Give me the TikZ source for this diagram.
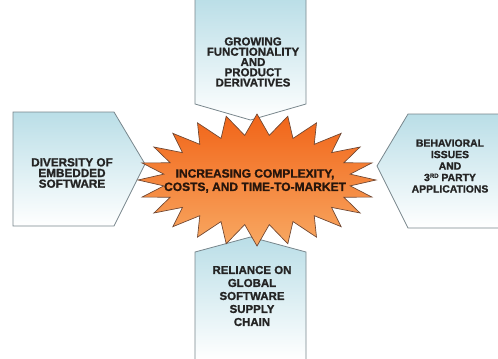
\documentclass[tikz,border=0pt]{standalone}
\usepackage{fontspec}
\setsansfont{Liberation Sans}[BoldFont={Liberation Sans Bold},BoldFeatures={FakeBold=1.2}]
\usepackage{tikz}

\tikzset{
  panel/.style={draw={rgb, 255:red, 120; green, 134; blue, 140}, line width=0.6pt,
    top color={rgb, 255:red, 186; green, 222; blue, 231}, bottom color=white},
  burst/.style={draw={rgb, 255:red, 110; green, 70; blue, 50}, line width=0.5pt,
    top color={rgb, 255:red, 241; green, 100; blue, 24}, bottom color={rgb, 255:red, 248; green, 168; blue, 98}},
  paneltext/.style={inner sep=0.75pt, align=center,
    text={rgb, 255:red, 36; green, 36; blue, 36}}
}

\begin{document}
\begin{tikzpicture}[x=0.75pt,y=0.75pt,yscale=-1,xscale=1]
\useasboundingbox (0,0) rectangle (498,358);

%Shape: Pentagon top [id:growing]
\draw [panel] (195,-2) -- (306,-2) -- (306,104) -- (250.5,120) -- (195,104) -- cycle ;
%Shape: Pentagon left [id:diversity]
\draw [panel] (13,112) -- (114,112) -- (145,164) -- (114,226) -- (13,226) -- cycle ;
%Shape: Pentagon right [id:behavioral]
\draw [panel] (500,114) -- (408,114) -- (377,166) -- (408,228) -- (500,228) -- cycle ;
%Shape: Pentagon bottom [id:reliance]
\draw [panel] (195,360) -- (195,252) -- (250.5,237) -- (306,252) -- (306,360) -- cycle ;

%Shape: Starburst [id:burst]
\draw [burst] plot [samples at={0,...,47}, variable=\k]
  ({257+ifthenelse(mod(\k,2)==0,119,94)*cos(\k*7.5+90)},
   {180+ifthenelse(mod(\k,2)==0,66,45)*sin(\k*7.5+90)}) -- cycle ;

% Text Node
\node (growing) at (253,62) [paneltext, font=\sffamily\bfseries\fontsize{8.6}{7.7}\selectfont]
  {GROWING\\FUNCTIONALITY\\AND\\PRODUCT\\DERIVATIVES};
% Text Node
\node (diversity) at (72,173) [paneltext, font=\sffamily\bfseries\fontsize{8.8}{8}\selectfont]
  {DIVERSITY OF\\EMBEDDED\\SOFTWARE};
% Text Node
\node (behavioral) at (450,166) [paneltext, font=\sffamily\bfseries\fontsize{7.8}{8.6}\selectfont]
  {BEHAVIORAL\\ISSUES\\AND\\3\raisebox{0.6ex}{\fontsize{4.5}{5}\selectfont RD} PARTY\\APPLICATIONS};
% Text Node
\node (reliance) at (252,296) [paneltext, font=\sffamily\bfseries\fontsize{8.6}{9.75}\selectfont]
  {RELIANCE ON\\GLOBAL\\SOFTWARE\\SUPPLY\\CHAIN};
% Text Node
\node (complexity) at (255,181) [paneltext, text={rgb, 255:red, 40; green, 22; blue, 12},
  font=\sffamily\bfseries\fontsize{9}{10}\selectfont]
  {INCREASING COMPLEXITY,\\COSTS, AND TIME-TO-MARKET};

\end{tikzpicture}
\end{document}
